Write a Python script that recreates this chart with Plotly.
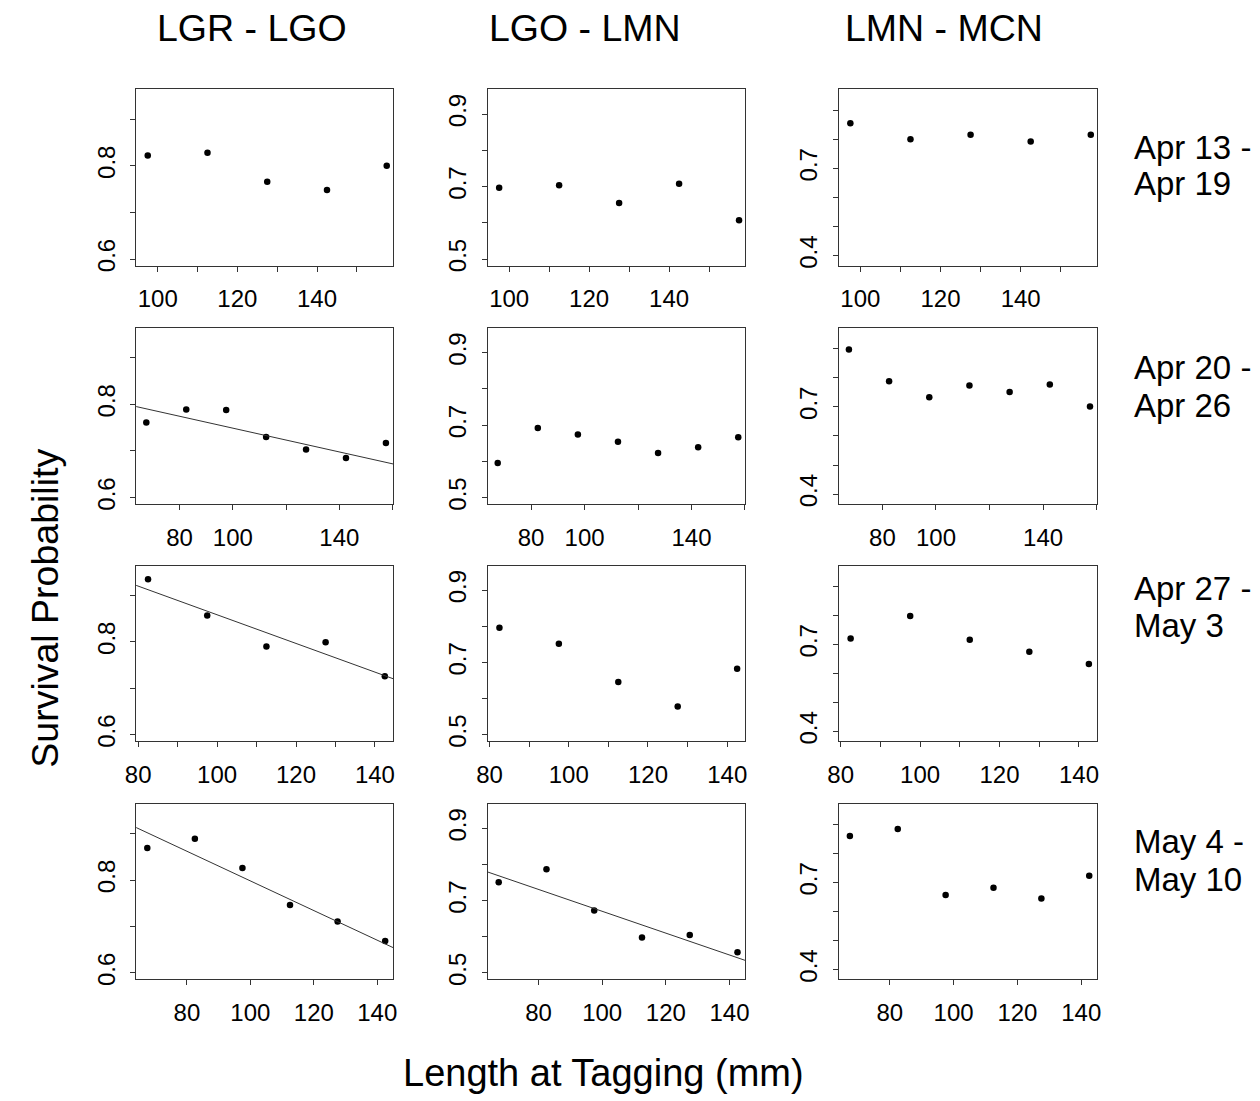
import plotly.graph_objects as go

# ---------------- data ----------------
col_titles = ["LGR - LGO", "LGO - LMN", "LMN - MCN"]
row_labels_1 = ["Apr 13 -", "Apr 20 -", "Apr 27 -", "May 4 -"]
row_labels_2 = ["Apr 19", "Apr 26", "May 3", "May 10"]

length_row1 = [97.5, 112.5, 127.5, 142.5, 157.5]
length_row2 = [67.5, 82.5, 97.5, 112.5, 127.5, 142.5, 157.5]
length_row3 = [82.5, 97.5, 112.5, 127.5, 142.5]
length_row4 = [67.5, 82.5, 97.5, 112.5, 127.5, 142.5]
row_lengths = [length_row1, length_row2, length_row3, length_row4]

surv_r1_lgr_lgo = [0.822, 0.828, 0.766, 0.748, 0.800]
surv_r1_lgo_lmn = [0.697, 0.704, 0.655, 0.708, 0.607]
surv_r1_lmn_mcn = [0.855, 0.800, 0.815, 0.792, 0.815]
surv_r2_lgr_lgo = [0.761, 0.789, 0.788, 0.730, 0.703, 0.685, 0.717]
surv_r2_lgo_lmn = [0.595, 0.692, 0.674, 0.654, 0.623, 0.639, 0.666]
surv_r2_lmn_mcn = [0.897, 0.788, 0.733, 0.773, 0.751, 0.777, 0.701]
surv_r3_lgr_lgo = [0.935, 0.857, 0.790, 0.799, 0.726]
surv_r3_lgo_lmn = [0.796, 0.752, 0.646, 0.578, 0.683]
surv_r3_lmn_mcn = [0.720, 0.798, 0.716, 0.674, 0.632]
surv_r4_lgr_lgo = [0.869, 0.889, 0.826, 0.746, 0.711, 0.669]
surv_r4_lgo_lmn = [0.751, 0.787, 0.673, 0.598, 0.605, 0.557]
surv_r4_lmn_mcn = [0.860, 0.884, 0.657, 0.682, 0.645, 0.723]
survival = [
    [surv_r1_lgr_lgo, surv_r1_lgo_lmn, surv_r1_lmn_mcn],
    [surv_r2_lgr_lgo, surv_r2_lgo_lmn, surv_r2_lmn_mcn],
    [surv_r3_lgr_lgo, surv_r3_lgo_lmn, surv_r3_lmn_mcn],
    [surv_r4_lgr_lgo, surv_r4_lgo_lmn, surv_r4_lmn_mcn],
]

# fitted regression lines (row, col) -> (intercept, slope)
fit_panels = [(1, 0), (2, 0), (3, 0), (3, 1)]
fit_intercept = [0.8765, 1.1669, 1.1172, 0.9731]
fit_slope = [-0.001276, -0.003086, -0.003191, -0.003025]

# tick values / labels
x_tickvals = [
    [100, 110, 120, 130, 140, 150],
    [80, 100, 120, 140, 160],
    [80, 90, 100, 110, 120, 130, 140],
    [80, 100, 120, 140],
]
x_ticktext = [
    ["100", "", "120", "", "140", ""],
    ["80", "100", "", "140", ""],
    ["80", "", "100", "", "120", "", "140"],
    ["80", "100", "120", "140"],
]
y_tickvals = [
    [0.6, 0.7, 0.8, 0.9],
    [0.5, 0.6, 0.7, 0.8, 0.9],
    [0.4, 0.5, 0.6, 0.7, 0.8, 0.9],
]
y_ticktext = [
    ["0.6", "", "0.8", ""],
    ["0.5", "", "0.7", "", "0.9"],
    ["0.4", "", "", "0.7", "", ""],
]
x_ranges = [[94.6, 159.1], [63.7, 160.2], [79.5, 144.6], [64.0, 145.0]]
y_ranges = [[0.586, 0.964], [0.482, 0.968], [0.366, 0.971]]

# ---------------- layout geometry (page pixels) ----------------
W, H = 1260, 1101
col_px = [(126.7, 386.7), (482.3, 743.3), (837.7, 1099.3)]
row_px = [(90, 267.3), (330, 507.3), (569.3, 746), (809, 985.7)]
FONT = "Liberation Sans, Arial, sans-serif"


def px(p):
    return p / W


def py(p):
    return 1 - p / H


fig = go.Figure()
layout = dict(
    width=W, height=H, margin=dict(l=0, r=0, t=0, b=0),
    paper_bgcolor="white", plot_bgcolor="white", showlegend=False,
    font=dict(family=FONT, color="black"),
)

for r in range(4):
    xs = row_lengths[r]
    xr = x_ranges[r]
    for c in range(3):
        k = r * 3 + c + 1
        xa = "x" if k == 1 else f"x{k}"
        ya = "y" if k == 1 else f"y{k}"
        fig.add_trace(go.Scatter(
            x=xs, y=survival[r][c], mode="markers", xaxis=xa, yaxis=ya,
            marker=dict(color="black", size=6.5), cliponaxis=True,
        ))
        if (r, c) in fit_panels:
            i = fit_panels.index((r, c))
            lx = [xr[0] - 5, xr[1] + 5]
            ly = [fit_intercept[i] + fit_slope[i] * v for v in lx]
            fig.add_trace(go.Scatter(
                x=lx, y=ly, mode="lines", xaxis=xa, yaxis=ya,
                line=dict(color="#333333", width=1),
            ))
        x0, x1 = col_px[c]
        y0, y1 = row_px[r]
        kx = "xaxis" if k == 1 else f"xaxis{k}"
        ky = "yaxis" if k == 1 else f"yaxis{k}"
        layout[kx] = dict(
            domain=[px(x0), px(x1)], anchor=ya, range=xr,
            showgrid=False, zeroline=False, showline=True, mirror=True,
            linecolor="#333333", linewidth=1,
            ticks="outside", ticklen=5, tickcolor="#333333",
            tickvals=x_tickvals[r], ticktext=x_ticktext[r],
            tickfont=dict(size=24, family=FONT, color="black"),
            ticklabelstandoff=7,
        )
        layout[ky] = dict(
            domain=[py(y1), py(y0)], anchor=xa, range=y_ranges[c],
            showgrid=False, zeroline=False, showline=True, mirror=True,
            linecolor="#333333", linewidth=1,
            ticks="outside", ticklen=5, tickcolor="#333333",
            tickvals=y_tickvals[c], ticktext=y_ticktext[c], tickangle=-90,
            tickfont=dict(size=24, family=FONT, color="black"),
            ticklabelstandoff=6,
        )

annotations = []
title_cx = [244, 581, 944]
for c in range(3):
    annotations.append(dict(
        text=col_titles[c], x=px(title_cx[c]), y=py(28), xref="paper", yref="paper",
        showarrow=False, xanchor="center", yanchor="middle",
        font=dict(size=37.5, family=FONT, color="black"),
    ))
row_label_y1 = [148, 370, 592, 847]
row_label_y2 = [185, 408, 630, 885]
for r in range(4):
    for txt, yy in ((row_labels_1[r], row_label_y1[r]), (row_labels_2[r], row_label_y2[r])):
        annotations.append(dict(
            text=txt, x=px(1135), y=py(yy), xref="paper", yref="paper",
            showarrow=False, xanchor="left", yanchor="middle",
            font=dict(size=33, family=FONT, color="black"),
        ))
annotations.append(dict(
    text="Survival Probability", x=px(35), y=py(612), xref="paper", yref="paper",
    showarrow=False, xanchor="center", yanchor="middle", textangle=-90,
    font=dict(size=37.5, family=FONT, color="black"),
))
annotations.append(dict(
    text="Length at Tagging (mm)", x=px(600), y=py(1080), xref="paper", yref="paper",
    showarrow=False, xanchor="center", yanchor="middle",
    font=dict(size=38, family=FONT, color="black"),
))
layout["annotations"] = annotations

fig.update_layout(**layout)
fig.write_html(
    "out.html",
    config={"displayModeBar": False},
    post_script="document.body.style.margin='0';document.documentElement.style.overflow='hidden';",
)
